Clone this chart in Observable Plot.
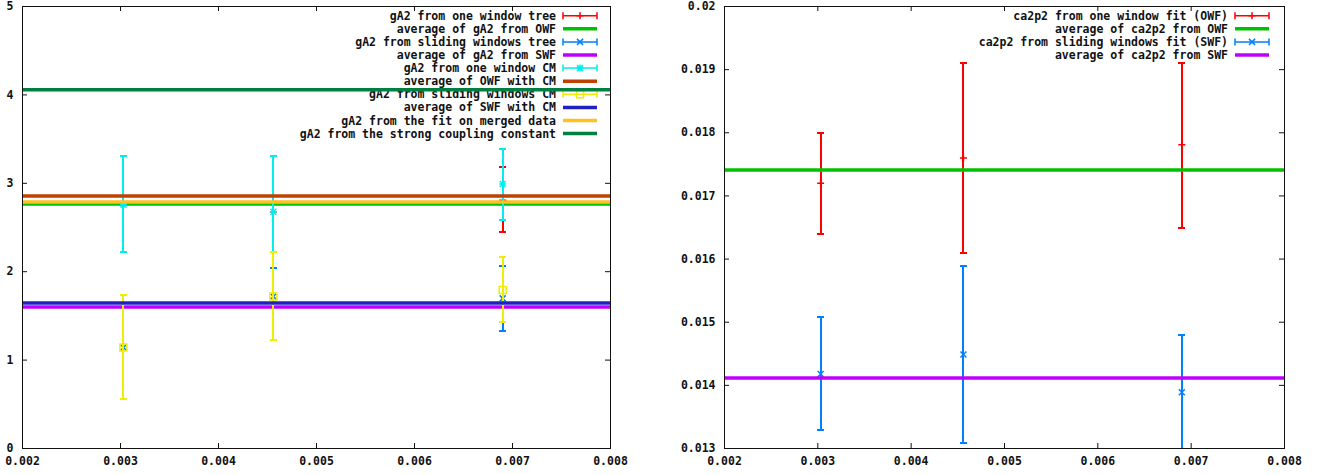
<!DOCTYPE html>
<html><head><meta charset="utf-8">
<script src="https://cdn.jsdelivr.net/npm/d3@7"></script>
<script src="https://cdn.jsdelivr.net/npm/@observablehq/plot@0.6"></script>
<style>
body{margin:0;background:#fff;}
#wrap{display:flex;width:1330px;height:475px;overflow:hidden;}
svg text{font-family:"DejaVu Sans Mono",monospace;font-weight:bold;}
</style></head><body><div id="wrap"></div>
<script>
// ---------- shared ----------
const xTicks = [0.002, 0.003, 0.004, 0.005, 0.006, 0.007, 0.008];
const mass = [0.00303, 0.00456, 0.0069];

// ---------- left panel (gA2) ----------
const leftYTicks = [0, 1, 2, 3, 4, 5];
const gA2OneWindowTree   = [2.759, 2.679, 2.808];
const gA2OneWindowTreeLo = [2.226, 2.045, 2.445];
const gA2OneWindowTreeHi = [3.306, 3.306, 3.189];
const gA2SlidingTree     = [1.143, 1.720, 1.698];
const gA2SlidingTreeLo   = [0.558, 1.226, 1.328];
const gA2SlidingTreeHi   = [1.736, 2.045, 2.068];
const gA2OneWindowCM     = [2.759, 2.679, 2.993];
const gA2OneWindowCMLo   = [2.226, 2.226, 2.589];
const gA2OneWindowCMHi   = [3.306, 3.306, 3.390];
const gA2SlidingCM       = [1.143, 1.720, 1.793];
const gA2SlidingCMLo     = [0.558, 1.226, 1.430];
const gA2SlidingCMHi     = [1.736, 2.226, 2.170];
const gA2AvgOWF = 2.767;
const gA2AvgSWF = 1.600;
const gA2AvgOWFCM = 2.857;
const gA2AvgSWFCM = 1.646;
const gA2MergedFit = 2.789;
const gA2StrongCoupling = 4.058;
const leftLabels = [
  "gA2 from one window tree", "average of gA2 from OWF",
  "gA2 from sliding windows tree", "average of gA2 from SWF",
  "gA2 from one window CM", "average of OWF with CM",
  "gA2 from sliding windows CM", "average of SWF with CM",
  "gA2 from the fit on merged data", "gA2 from the strong coupling constant"
];

// ---------- right panel (ca2p2) ----------
const rightYTicks = [0.013, 0.014, 0.015, 0.016, 0.017, 0.018, 0.019, 0.02];
const rightYTickLabels = ["0.013", "0.014", "0.015", "0.016", "0.017", "0.018", "0.019", "0.02"];
const ca2p2OWF   = [0.01720, 0.01760, 0.01781];
const ca2p2OWFLo = [0.01640, 0.01610, 0.01650];
const ca2p2OWFHi = [0.01800, 0.01911, 0.01911];
const ca2p2SWF   = [0.01418, 0.01449, 0.01389];
const ca2p2SWFLo = [0.01329, 0.01308, 0.01299];
const ca2p2SWFHi = [0.01508, 0.01589, 0.01479];
const ca2p2AvgOWF = 0.01741;
const ca2p2AvgSWF = 0.014116;
const rightLabels = [
  "ca2p2 from one window fit (OWF)", "average of ca2p2 from OWF",
  "ca2p2 from sliding windows fit (SWF)", "average of ca2p2 from SWF"
];

// ---------- styles ----------
const lt = ["#ff0000", "#00c000", "#0080ff", "#c000ff", "#00eeee", "#c04000", "#eeee00", "#2020c0", "#ffc020", "#008040"];
const errWidth = 1.5;
const sym = f => ({draw(c) { f(c); }});
const capSym = sym(c => { c.moveTo(-3.5, 0); c.lineTo(3.5, 0); });
const plusSym = sym(c => { c.moveTo(-3.5, 0); c.lineTo(3.5, 0); c.moveTo(0, -3.5); c.lineTo(0, 3.5); });
const timesSym = sym(c => { c.moveTo(-3, -3); c.lineTo(3, 3); c.moveTo(-3, 3); c.lineTo(3, -3); });
const starSym = sym(c => { c.moveTo(-3.5, 0); c.lineTo(3.5, 0); c.moveTo(0, -3.5); c.lineTo(0, 3.5);
  c.moveTo(-3, -3); c.lineTo(3, 3); c.moveTo(-3, 3); c.lineTo(3, -3); });
const squareSym = sym(c => { c.rect(-3.5, -3.5, 7, 7); });

const rows = (x, y, lo, hi) => x.map((v, i) => ({x: v, y: y[i], lo: lo[i], hi: hi[i]}));

const leftEntries = [
  {kind: "err", color: lt[0], sym: plusSym, rows: rows(mass, gA2OneWindowTree, gA2OneWindowTreeLo, gA2OneWindowTreeHi)},
  {kind: "avg", color: lt[1], value: gA2AvgOWF},
  {kind: "err", color: lt[2], sym: timesSym, rows: rows(mass, gA2SlidingTree, gA2SlidingTreeLo, gA2SlidingTreeHi)},
  {kind: "avg", color: lt[3], value: gA2AvgSWF},
  {kind: "err", color: lt[4], sym: starSym, rows: rows(mass, gA2OneWindowCM, gA2OneWindowCMLo, gA2OneWindowCMHi)},
  {kind: "avg", color: lt[5], value: gA2AvgOWFCM},
  {kind: "err", color: lt[6], sym: squareSym, rows: rows(mass, gA2SlidingCM, gA2SlidingCMLo, gA2SlidingCMHi)},
  {kind: "avg", color: lt[7], value: gA2AvgSWFCM},
  {kind: "avg", color: lt[8], value: gA2MergedFit},
  {kind: "avg", color: lt[9], value: gA2StrongCoupling}
].map((e, i) => ({...e, label: leftLabels[i]}));

const rightEntries = [
  {kind: "err", color: lt[0], sym: plusSym, rows: rows(mass, ca2p2OWF, ca2p2OWFLo, ca2p2OWFHi)},
  {kind: "avg", color: lt[1], value: ca2p2AvgOWF},
  {kind: "err", color: lt[2], sym: timesSym, rows: rows(mass, ca2p2SWF, ca2p2SWFLo, ca2p2SWFHi)},
  {kind: "avg", color: lt[3], value: ca2p2AvgSWF}
].map((e, i) => ({...e, label: rightLabels[i]}));

function seriesMarks(e) {
  if (e.kind === "avg") return [Plot.ruleY([e.value], {stroke: e.color, strokeWidth: 3.5})];
  const crisp = {stroke: e.color, strokeWidth: 2, shapeRendering: "crispEdges", clip: true};
  return [
    Plot.ruleX(e.rows, {x: "x", y1: "lo", y2: "hi", ...crisp}),
    Plot.dot(e.rows, {x: "x", y: "lo", symbol: capSym, fill: "none", ...crisp}),
    Plot.dot(e.rows, {x: "x", y: "hi", symbol: capSym, fill: "none", ...crisp}),
    Plot.dot(e.rows, {x: "x", y: "y", symbol: e.sym, stroke: e.color, fill: "none", strokeWidth: errWidth, clip: true})
  ];
}

function panel({width, marginLeft, marginRight, yDomain, yTicks, yFormat, entries, legend}) {
  const height = 475, marginTop = 6, marginBottom = 27;
  const innerW = width - marginLeft - marginRight;
  const innerH = height - marginTop - marginBottom;
  const ink = "#111";
  const svg = Plot.plot({
    width, height, marginLeft, marginRight, marginTop, marginBottom,
    style: {fontFamily: "DejaVu Sans Mono, monospace", fontSize: "11.5px", fontWeight: "bold", color: ink, background: "#fff"},
    x: {domain: [0.002, 0.008]},
    y: {domain: yDomain},
    marks: [
      ...entries.flatMap(seriesMarks),
      Plot.frame({stroke: ink, strokeWidth: 1}),
      Plot.tickY(yTicks, {y: d => d, insetRight: innerW - 5, stroke: ink}),
      Plot.tickY(yTicks, {y: d => d, insetLeft: innerW - 5, stroke: ink}),
      Plot.tickX(xTicks, {x: d => d, insetTop: innerH - 5, stroke: ink}),
      Plot.tickX(xTicks, {x: d => d, insetBottom: innerH - 5, stroke: ink}),
      Plot.axisY({ticks: yTicks, tickSize: 0, tickPadding: 9, tickFormat: yFormat, label: null}),
      Plot.axisX({ticks: xTicks, tickSize: 0, tickPadding: 8, tickFormat: d3.format(".3f"), label: null})
    ]
  });
  // key (drawn underneath the data, as in the original)
  const g = d3.select(svg).insert("g", ":first-child").attr("aria-label", "key");
  const rowY = i => 15.7 + i * 13.1;
  const sx1 = legend.textRight + 7, sx2 = legend.textRight + 41, sm = (sx1 + sx2) / 2;
  entries.forEach((e, i) => {
    const y = rowY(i);
    g.append("text").attr("x", legend.textRight).attr("y", y).attr("dy", "0.35em")
      .attr("text-anchor", "end").attr("fill", ink).style("font-size", "11.5px").text(e.label);
    if (e.kind === "avg") {
      g.append("line").attr("x1", sx1).attr("x2", sx2).attr("y1", y).attr("y2", y)
        .attr("stroke", e.color).attr("stroke-width", 3.5);
    } else {
      const p = d3.path();
      p.moveTo(sx1, y); p.lineTo(sx2, y);
      p.moveTo(sx1, y - 3.5); p.lineTo(sx1, y + 3.5);
      p.moveTo(sx2, y - 3.5); p.lineTo(sx2, y + 3.5);
      g.append("path").attr("d", p.toString()).attr("stroke", e.color).attr("fill", "none")
        .attr("stroke-width", errWidth);
      const q = d3.path();
      e.sym.draw(q);
      g.append("path").attr("d", q.toString()).attr("transform", `translate(${sm},${y})`)
        .attr("stroke", e.color).attr("fill", "none").attr("stroke-width", errWidth);
    }
  });
  return svg;
}

const wrap = document.getElementById("wrap");
wrap.appendChild(panel({
  width: 640, marginLeft: 22, marginRight: 30,
  yDomain: [0, 5], yTicks: leftYTicks, yFormat: d3.format("d"),
  entries: leftEntries, legend: {textRight: 556}
}));
wrap.appendChild(panel({
  width: 690, marginLeft: 84, marginRight: 46,
  yDomain: [0.013, 0.02], yTicks: rightYTicks,
  yFormat: d => rightYTickLabels[rightYTicks.indexOf(d)],
  entries: rightEntries, legend: {textRight: 588}
}));
</script></body></html>
